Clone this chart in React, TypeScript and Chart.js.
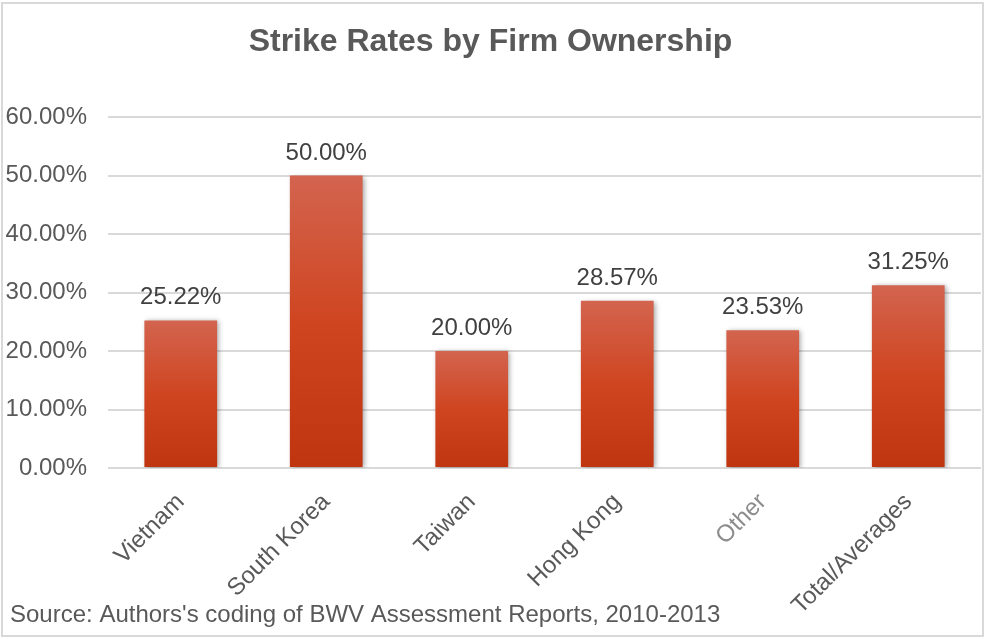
import React, { useEffect, useRef } from "react";
import { Chart, registerables } from "chart.js";

Chart.register(...registerables);

const categories = ["Vietnam", "South Korea", "Taiwan", "Hong Kong", "Other", "Total/Averages"];
const strikeRates = [25.22, 50.0, 20.0, 28.57, 23.53, 31.25];
const categoryColors = ["#595959", "#595959", "#595959", "#595959", "#8c8c8c", "#595959"];
const yMax = 60;
const yStep = 10;
const titleText = "Strike Rates by Firm Ownership";
const sourceText = "Source: Authors's coding of BWV Assessment Reports, 2010-2013";

const FONT = "'Liberation Sans', Arial, Helvetica, sans-serif";

const framePlugin = {
  id: "frame",
  beforeDraw(chart: any) {
    const ctx = chart.ctx;
    ctx.save();
    ctx.fillStyle = "#ffffff";
    ctx.fillRect(0, 0, chart.width, chart.height);
    ctx.strokeStyle = "#d9d9d9";
    ctx.lineWidth = 2;
    ctx.strokeRect(2, 3, chart.width - 5, chart.height - 6);
    ctx.restore();
  },
  afterDraw(chart: any) {
    const ctx = chart.ctx;
    ctx.save();
    ctx.font = `24px ${FONT}`;
    ctx.fillStyle = "#595959";
    ctx.textAlign = "left";
    ctx.textBaseline = "alphabetic";
    ctx.fillText(sourceText, 10, 622);
    ctx.restore();
  },
};

const shadowPlugin = {
  id: "barShadow",
  beforeDatasetsDraw(chart: any) {
    const ctx = chart.ctx;
    ctx.save();
    ctx.shadowColor = "rgba(0,0,0,0.35)";
    ctx.shadowBlur = 5;
    ctx.shadowOffsetX = 2;
    ctx.shadowOffsetY = 1;
  },
  afterDatasetsDraw(chart: any) {
    chart.ctx.restore();
  },
};

const valueLabelPlugin = {
  id: "valueLabels",
  afterDatasetsDraw(chart: any) {
    const ctx = chart.ctx;
    const meta = chart.getDatasetMeta(0);
    ctx.save();
    ctx.font = `24px ${FONT}`;
    ctx.fillStyle = "#404040";
    ctx.textAlign = "center";
    ctx.textBaseline = "alphabetic";
    meta.data.forEach((bar: any, i: number) => {
      const v = chart.data.datasets[0].data[i] as number;
      ctx.fillText(v.toFixed(2) + "%", bar.x, bar.y - 16);
    });
    ctx.restore();
  },
};

export default function App() {
  const ref = useRef<HTMLCanvasElement | null>(null);

  useEffect(() => {
    if (!ref.current) return;
    const chart = new Chart(ref.current, {
      type: "bar",
      data: {
        labels: categories,
        datasets: [
          {
            data: strikeRates,
            backgroundColor: (ctx: any) => {
              const c = ctx.chart;
              if (!c.chartArea || ctx.type !== "data") return "#cf4420";
              const yScale = c.scales.y;
              const top = yScale.getPixelForValue(ctx.raw);
              const bottom = yScale.getPixelForValue(0);
              if (!isFinite(top) || !isFinite(bottom) || top === bottom) return "#cf4420";
              const g = c.ctx.createLinearGradient(0, top, 0, bottom);
              g.addColorStop(0, "#d3644f");
              g.addColorStop(0.5, "#cf4520");
              g.addColorStop(1, "#bf3510");
              return g;
            },
            borderWidth: 0,
            categoryPercentage: 1,
            barPercentage: 0.5,
          },
        ],
      },
      options: {
        animation: false,
        responsive: false,
        maintainAspectRatio: false,
        layout: { padding: { left: 0, right: 5, top: 0, bottom: 0 } },
        plugins: {
          legend: { display: false },
          tooltip: { enabled: false },
          title: {
            display: true,
            text: titleText,
            color: "#595959",
            font: { family: FONT, size: 32, weight: "bold", lineHeight: 1.2 },
            padding: { top: 23, bottom: 55.6 },
          },
        },
        scales: {
          x: {
            grid: { display: false },
            border: { display: false },
            ticks: {
              color: categoryColors,
              font: { family: FONT, size: 24 },
              maxRotation: 45,
              minRotation: 45,
              padding: 12,
            },
            afterFit(scale: any) {
              scale.height = 171;
            },
          },
          y: {
            min: 0,
            max: yMax,
            grid: { color: "#d9d9d9", lineWidth: 2, drawTicks: false },
            border: { display: false },
            ticks: {
              stepSize: yStep,
              color: "#595959",
              font: { family: FONT, size: 24 },
              padding: 21,
              callback: (v: any) => Number(v).toFixed(2) + "%",
            },
            afterFit(scale: any) {
              scale.width = 108;
            },
          },
        },
      },
      plugins: [framePlugin, shadowPlugin, valueLabelPlugin],
    });
    return () => chart.destroy();
  }, []);

  return (
    <div style={{ position: "absolute", left: 0, top: 0, width: 986, height: 639 }}>
      <canvas ref={ref} width={986} height={639} />
    </div>
  );
}
